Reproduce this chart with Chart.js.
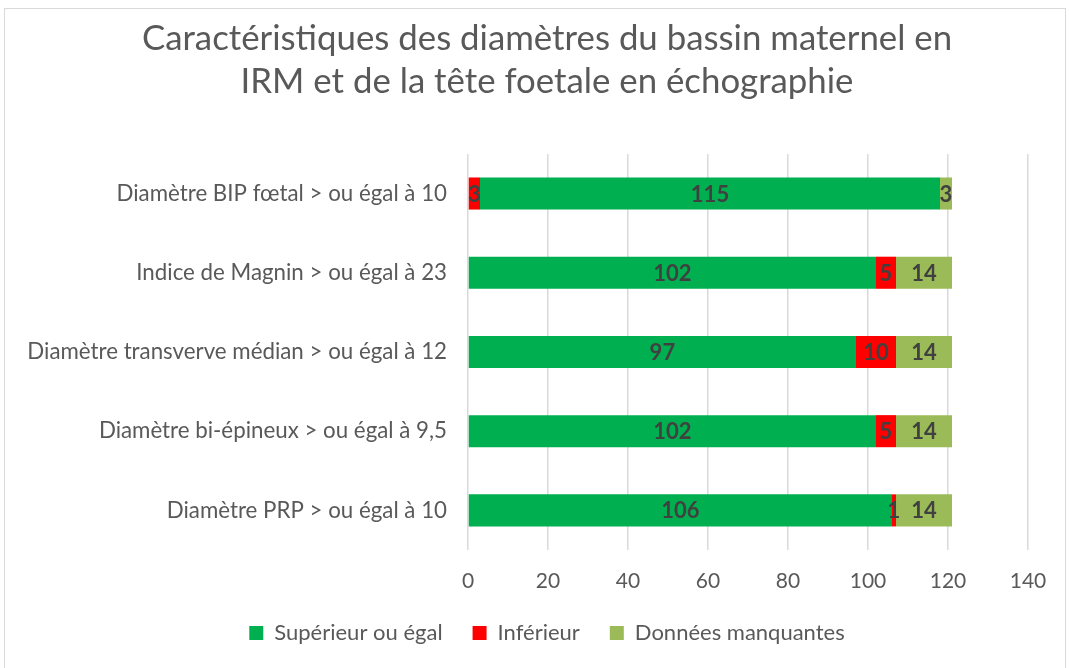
<!DOCTYPE html>
<html><head><meta charset="utf-8">
<script src="https://cdn.jsdelivr.net/npm/chart.js@4"></script>
<style>html,body{margin:0;padding:0;background:#fff}#wrap{width:1070px;height:668px}</style>
</head><body><div id="wrap"><canvas id="c" width="1070" height="668"></canvas></div>
<script>
const titre = ["Caractéristiques des diamètres du bassin maternel en", "IRM et de la tête foetale en échographie"];
const categories = ["Diamètre BIP fœtal > ou égal à 10", "Indice de Magnin > ou égal à 23", "Diamètre transverve médian > ou égal à 12", "Diamètre bi-épineux > ou égal à 9,5", "Diamètre PRP > ou égal à 10"];
const superieur = [115, 102, 97, 102, 106];
const inferieur = [3, 5, 10, 5, 1];
const manquantes = [3, 14, 14, 14, 14];
const inferieurEnPremier = [true, false, false, false, false];
const xTicks = { min: 0, max: 140, step: 20 };

const FONT = "Lato, 'Open Sans', sans-serif";
const GRAY = "#595959";

const datasets = [
  { label: "Inférieur", legendHidden: true, data: inferieur.map((v,i)=>inferieurEnPremier[i]?v:null), backgroundColor: "#FF0000" },
  { label: "Supérieur ou égal", data: superieur, backgroundColor: "#00B050" },
  { label: "Inférieur", data: inferieur.map((v,i)=>inferieurEnPremier[i]?null:v), backgroundColor: "#FF0000" },
  { label: "Données manquantes", data: manquantes, backgroundColor: "#9BBB59" }
].map(d => Object.assign(d, { barPercentage: 0.405, categoryPercentage: 1.0 }));

const labelsPlugin = {
  id: "valLabels",
  afterDatasetsDraw(chart) {
    const ctx = chart.ctx;
    ctx.save();
    ctx.font = "bold 22px " + FONT;
    ctx.fillStyle = "#404040";
    ctx.textAlign = "center";
    ctx.textBaseline = "middle";
    chart.data.datasets.forEach((ds, di) => {
      const meta = chart.getDatasetMeta(di);
      meta.data.forEach((bar, i) => {
        const v = ds.data[i];
        if (v == null) return;
        const p = bar.getProps(["x","base","y"], true);
        ctx.fillText(String(v), (p.x + p.base)/2, p.y + 1);
      });
    });
    ctx.restore();
  }
};
const framePlugin = {
  id: "frame",
  beforeDraw(chart) {
    const ctx = chart.ctx;
    ctx.save();
    ctx.fillStyle = "#fff";
    ctx.fillRect(0,0,chart.width,chart.height);
    ctx.strokeStyle = "#D9D9D9";
    ctx.lineWidth = 1;
    ctx.strokeRect(4.5, 8.5, 1061, 670);
    ctx.restore();
  }
};

new Chart(document.getElementById("c"), {
  type: "bar",
  data: { labels: categories, datasets },
  plugins: [framePlugin, labelsPlugin],
  options: {
    responsive: false,
    animation: false,
    indexAxis: "y",
    layout: { padding: { left: 66, right: 42, top: 0, bottom: 14 } },
    plugins: {
      title: { display: true, text: titre, color: GRAY, font: { family: FONT, size: 34.8, weight: "normal", lineHeight: 1.22 }, padding: { top: 18, bottom: 51 } },
      legend: {
        position: "bottom",
        labels: {
          filter: (item, data) => !data.datasets[item.datasetIndex].legendHidden,
          color: GRAY, font: { family: FONT, size: 22 }, boxWidth: 14, boxHeight: 14, padding: 30
        }
      },
      tooltip: { enabled: false }
    },
    scales: {
      x: {
        stacked: true, min: xTicks.min, max: xTicks.max,
        afterFit: (s) => { s.height = 42; },
        ticks: { stepSize: xTicks.step, color: GRAY, font: { family: FONT, size: 21 }, padding: 19 },
        grid: { color: "#D9D9D9", lineWidth: 1.5, drawTicks: false },
        border: { display: false }
      },
      y: {
        stacked: true,
        afterFit: (s) => { s.width = 402; s._computeLabelArea = () => undefined; },
        ticks: { color: GRAY, font: { family: FONT, size: 22.3 }, padding: 21 },
        grid: { display: false, drawTicks: false },
        border: { display: false }
      }
    }
  }
});
</script></body></html>
